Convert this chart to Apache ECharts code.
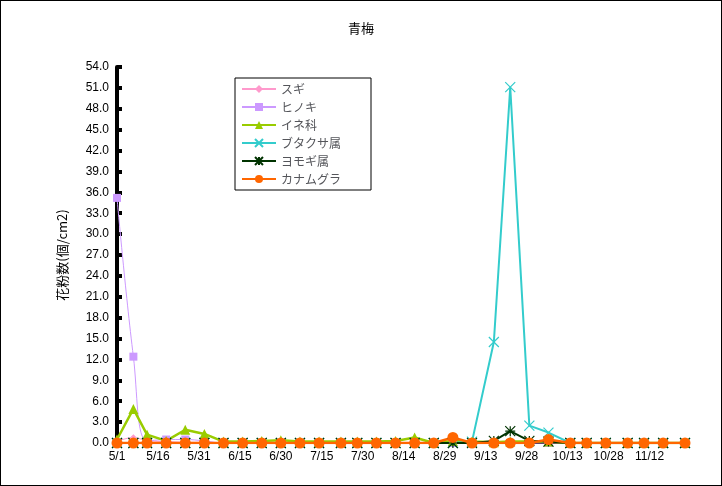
<!DOCTYPE html><html><head><meta charset="utf-8"><script src="https://cdn.jsdelivr.net/npm/echarts@6/dist/echarts.min.js"></script></head><body style="margin:0"><div id="c" style="width:722px;height:486px;border:1px solid #000;box-sizing:border-box"></div><script>
const days=[0,6,11,18,25,32,39,46,53,60,67,74,82,88,95,102,109,116,123,130,138,144,151,158,166,172,179,187,193,200,208];
const sugi=[0.3,0.9,0.3,0.2,0.1,0.1,0,0,0,0,0,0,0,0,0,0,0,0,0,0,0,0,0,0,0,0,0,0,0,0,0];
const hinoki=[35.2,12.4,0.3,0.5,0.5,0.3,0,0,0,0,0,0,0,0,0,0,0,0,0,0,0,0,0,0,0,0,0,0,0,0,0];
const ine=[0.5,4.9,1.2,0.3,1.9,1.3,0.2,0.2,0.3,0.4,0.2,0.2,0.2,0.2,0.2,0.3,0.8,0,0.3,0.2,0.1,0.2,0.2,0.2,0,0,0,0,0,0,0];
const butakusa=[0,0,0,0,0,0,0,0,0,0,0,0,0,0,0,0,0,0,0,0.2,14.5,51.1,2.5,1.5,0,0,0,0,0,0,0];
const yomogi=[0,0,0,0,0,0,0,0,0,0,0,0,0,0,0,0,0,0,0,0,0.3,1.7,0.3,0.2,0,0,0,0,0,0,0];
const kana=[0,0,0,0,0,0,0,0,0,0,0,0,0,0,0,0,0,0,0.8,0,0,0,0,0.5,0,0,0,0,0,0,0];
const names=['スギ','ヒノキ','イネ科','ブタクサ属','ヨモギ属','カナムグラ'];
const cols=['#ff99cc','#cc99ff','#99cc00','#33cccc','#003300','#ff6600'];
const syms=['diamond','rect','triangle','path://M0,0L10,10M10,0L0,10','path://M0,0L10,10M10,0L0,10M5,0L5,10M0,5L10,5','circle'];
const sizes=[5,8,10,10,10,11];
const widths=[1,1,2.5,2,2,2.5];
const data=[sugi,hinoki,ine,butakusa,yomogi,kana];
const base=new Date(2000,4,1);
const f="'Liberation Sans',sans-serif";
const ch=echarts.init(document.getElementById('c'));
ch.setOption({
 animation:false,
 title:{text:'青梅',left:'center',top:16,textStyle:{fontSize:13,fontWeight:'normal',color:'#000',fontFamily:"'Noto Sans CJK JP'"}},
 grid:{left:116,right:36,top:66,bottom:42},
 legend:{orient:'vertical',left:234,top:77,width:112,itemGap:6,padding:[5,30,5,6],borderColor:'#000',borderWidth:1,itemWidth:34,itemHeight:10,textStyle:{fontSize:12,fontFamily:"'Noto Sans CJK JP'"},data:names},
 xAxis:{type:'value',min:0,max:208,interval:15,splitLine:{show:false},axisLine:{lineStyle:{color:'#000'},onZero:false},axisTick:{show:false},
  axisLabel:{color:'#000',fontSize:12,fontFamily:f,showMaxLabel:false,formatter:v=>{const d=new Date(base.getTime()+v*86400000);return (d.getMonth()+1)+'/'+d.getDate();}}},
 yAxis:{type:'value',min:0,max:54,interval:3,name:'花粉数(個/cm2)',nameLocation:'middle',nameGap:48,nameTextStyle:{fontSize:13,color:'#000',fontFamily:"'Noto Sans CJK JP'"},
  splitLine:{show:false},axisLine:{show:true,lineStyle:{color:'#000',width:4}},axisTick:{show:true,inside:true,length:5,lineStyle:{width:4,color:'#000'}},
  axisLabel:{color:'#000',fontSize:12,fontFamily:f,formatter:v=>v.toFixed(1)}},
 series:names.map((n,i)=>({name:n,type:'line',smooth:i===1?0.4:false,data:days.map((d,j)=>[d,data[i][j]]),symbol:syms[i],symbolSize:sizes[i],
  lineStyle:{color:cols[i],width:widths[i]},itemStyle:{color:cols[i],borderColor:cols[i],borderWidth:(i===3||i===4)?1.2:0}}))
});
</script></body></html>
